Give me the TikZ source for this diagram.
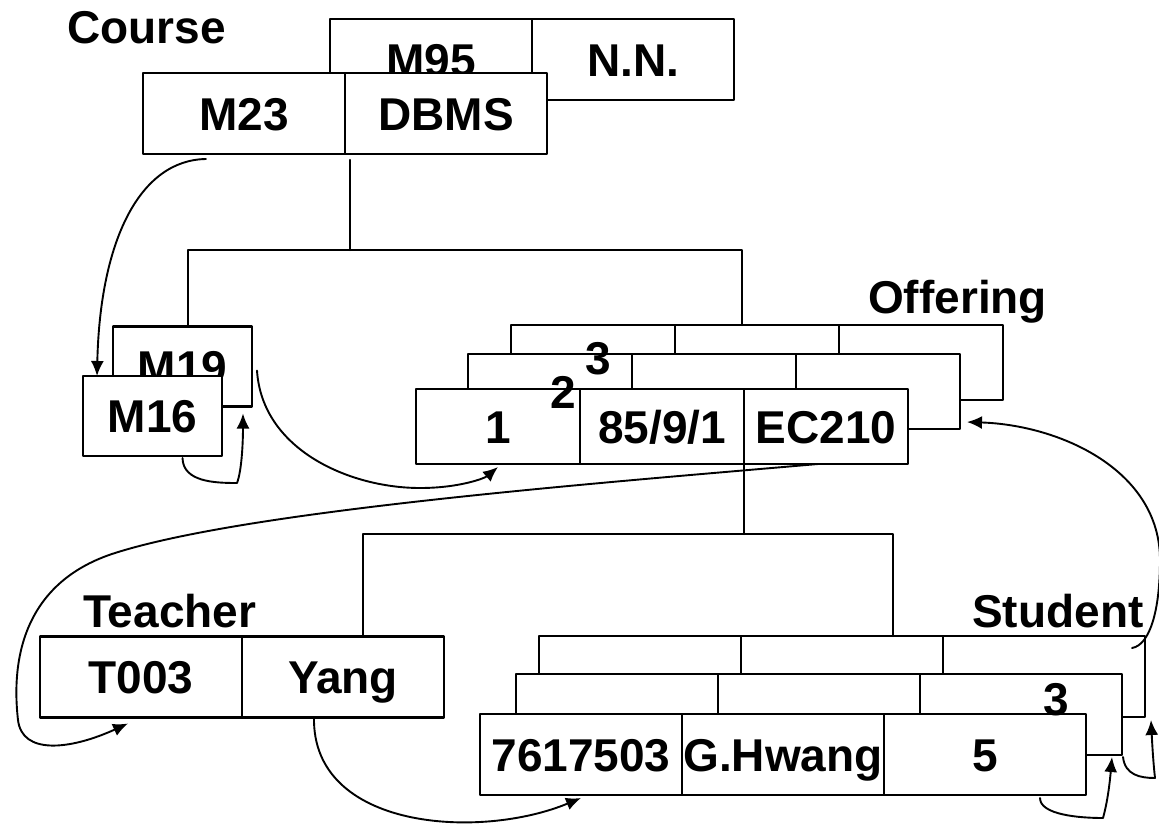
\documentclass[tikz,border=0pt]{standalone}
\usepackage{fontspec}
\setmainfont{Liberation Sans}
\usetikzlibrary{arrows.meta}

\begin{document}
\begin{tikzpicture}[
				x=1pt, y=-1pt,
				line cap=round,
				line join=round,
				every node/.style={font=\fontsize{46}{50}\selectfont\bfseries},
				field/.style={draw, fill=white, line width=2.4pt, inner sep=0pt, outer sep=0pt,
					minimum width=202pt, minimum height=81pt, text height=33pt, text depth=0pt},
				ofield/.style={field, minimum width=164pt, minimum height=75pt},
				mfield/.style={field, minimum width=139pt, minimum height=80pt},
				digit/.style={inner sep=0pt, text height=33pt, text depth=0pt},
				tablename/.style={anchor=base west, inner sep=0pt},
				tree/.style={line width=2.2pt},
				link/.style={line width=1.9pt, -{Latex[length=15pt,width=13pt]}}
				]
				\useasboundingbox (0,0) rectangle (1159,827);
				
				% Course records
				\node[field] (m95) at (431,59.5) {M95};
				\node[field] (nn) at (633,59.5) {N.N.};
				\node[field] (m23) at (244,113.5) {M23};
				\node[field] (dbms) at (446,113.5) {DBMS};
				\node[tablename] (coursel) at (67,43) {Course};
				
				% Prerequisite records
				\node[mfield] (m19) at (182.5,366.5) {M19};
				\node[mfield] (m16) at (152.5,416) {M16};
				
				% Offering records
				\node[ofield] (ob1) at (593,362.5) {};
				\node[ofield] (ob2) at (757,362.5) {};
				\node[ofield] (ob3) at (921,362.5) {};
				\node[ofield] (om1) at (550,391.5) {};
				\node[ofield] (om2) at (714,391.5) {};
				\node[ofield] (om3) at (878,391.5) {};
				\node[ofield] (of1) at (498,426.5) {1};
				\node[ofield] (of2) at (662,426.5) {85/9/1};
				\node[ofield] (of3) at (826,426.5) {EC210};
				\node[digit] (o2) at (563,391.5) {2};
				\node[digit] (o3) at (598,358) {3};
				\node[tablename] (offeringl) at (868,313) {Offering};
				
				% Teacher record
				\node[field] (t003) at (141,677) {T003};
				\node[field] (yang) at (343,677) {Yang};
				\node[tablename] (teacherl) at (83,627) {Teacher};
				
				% Student records
				\node[field] (sb1) at (640,676.5) {};
				\node[field] (sb2) at (842,676.5) {};
				\node[field] (sb3) at (1044,676.5) {};
				\node[field] (sm1) at (617,714.5) {};
				\node[field] (sm2) at (819,714.5) {};
				\node[field] (sm3) at (1021,714.5) {};
				\node[field] (sf1) at (581,754.5) {7617503};
				\node[field] (sf2) at (783,754.5) {G.Hwang};
				\node[field] (sf3) at (985,754.5) {5};
				\node[digit] (s3) at (1056,699) {3};
				\node[tablename] (studentl) at (972,627) {Student};
				
				% Tree lines
				\coordinate (cfork) at (350,250);
				\draw[tree] ([xshift=5pt,yshift=-6pt]dbms.south west) -- (cfork);
				\draw[tree] ([xshift=5.5pt]m19.north) |- (cfork) -| ([xshift=-15pt]ob2.north);
				\coordinate (ofork) at (744,534);
				\draw[tree] (of3.south west) -- (ofork);
				\draw[tree] ([xshift=20pt]yang.north) |- (ofork) -| ([xshift=51pt]sb2.north);
				
				% Pointer arrows
				\draw[link] ([xshift=-38pt,yshift=-5pt]m23.south) .. controls (140,160) and (100,240) .. ([xshift=14pt]m16.north west);
				\draw[link] ([xshift=30pt,yshift=-2pt]m16.south) .. controls (183,482) and (215,483) .. (237,483) .. controls (242,470) and (243,440) .. ([xshift=-9pt,yshift=-7pt]m19.south east);
				\draw[link] ([xshift=5pt,yshift=-4pt]m19.east) .. controls (262,450) and (350,488) .. (420,488) .. controls (460,488) and (485,478) .. ([yshift=-3pt]of1.south);
				\draw[link] ([xshift=-8pt]of3.south) .. controls (600,483) and (250,510) .. (115,553) .. controls (30,580) and (10,650) .. (18,720) .. controls (22,755) and (70,750) .. ([xshift=-13pt,yshift=-6pt]t003.south);
				\draw[link] ([xshift=-29pt]yang.south) .. controls (312,830) and (480,840) .. ([yshift=-3pt]sf1.south);
				\draw[link] ([xshift=55pt,yshift=-3pt]sf3.south) .. controls (1040,815) and (1080,818) .. (1103,818) .. controls (1108,800) and (1110,780) .. ([xshift=-10pt,yshift=-2pt]sm3.south east);
				\draw[link] ([xshift=1pt,yshift=-2pt]sm3.south east) .. controls (1125,775) and (1140,778) .. (1155,778) .. controls (1153,760) and (1152,740) .. ([xshift=6pt,yshift=-3pt]sb3.south east);
				\draw[link] ([xshift=-13pt,yshift=-12pt]sb3.north east) .. controls (1150,645) and (1160,610) .. (1160,560) .. controls (1160,470) and (1060,425) .. ([xshift=7pt,yshift=7pt]om3.south east);
			\end{tikzpicture}
\end{document}
